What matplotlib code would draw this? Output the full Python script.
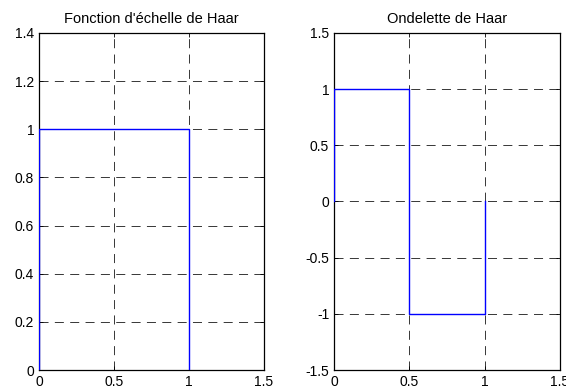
import matplotlib
matplotlib.use("Agg")
import matplotlib.pyplot as plt

plt.rcParams['font.family'] = ['Liberation Sans', 'DejaVu Sans']

# Haar scaling function
phi_x = [0, 0, 1, 1]
phi_y = [0, 1, 1, 0]
# Haar wavelet
psi_x = [0, 0, 0.5, 0.5, 1, 1]
psi_y = [0, 1, 1, -1, -1, 0]

xticks = [0, 0.5, 1, 1.5]
xticklabels = ['0', '0.5', '1', '1.5']
yticks_phi = [0, 0.2, 0.4, 0.6, 0.8, 1, 1.2, 1.4]
yticklabels_phi = ['0', '0.2', '0.4', '0.6', '0.8', '1', '1.2', '1.4']
yticks_psi = [-1.5, -1, -0.5, 0, 0.5, 1, 1.5]
yticklabels_psi = ['-1.5', '-1', '-0.5', '0', '0.5', '1', '1.5']

titles = ["Fonction d'échelle de Haar", "Ondelette de Haar"]

fig = plt.figure(figsize=(5.66, 3.88), dpi=100)
ax1 = fig.add_axes([39/566, 18/388, 225/566, 337/388])
ax2 = fig.add_axes([334/566, 18/388, 226/566, 337/388])

def style(ax, yt, ytl, ylim, title):
    ax.set_xlim(0, 1.5)
    ax.set_ylim(*ylim)
    ax.set_xticks(xticks)
    ax.set_xticklabels(xticklabels)
    ax.set_yticks(yt)
    ax.set_yticklabels(ytl)
    ax.tick_params(direction='in', length=3, width=0.6, top=True, right=True,
                   labelsize=10, pad=3.5, colors='black')
    ax.grid(True, color='#111111', linestyle=(0, (10, 7)), linewidth=0.65, alpha=0.9)
    for s in ax.spines.values():
        s.set_linewidth(0.9)
    ax.set_title(title, fontsize=10.5, pad=7)

ax1.plot(phi_x, phi_y, color='#0000ff', linewidth=1.0, zorder=3)
style(ax1, yticks_phi, yticklabels_phi, (0, 1.4), titles[0])
ax2.plot(psi_x, psi_y, color='#0000ff', linewidth=1.0, zorder=3)
style(ax2, yticks_psi, yticklabels_psi, (-1.5, 1.5), titles[1])

fig.savefig("out.png", dpi=100)
